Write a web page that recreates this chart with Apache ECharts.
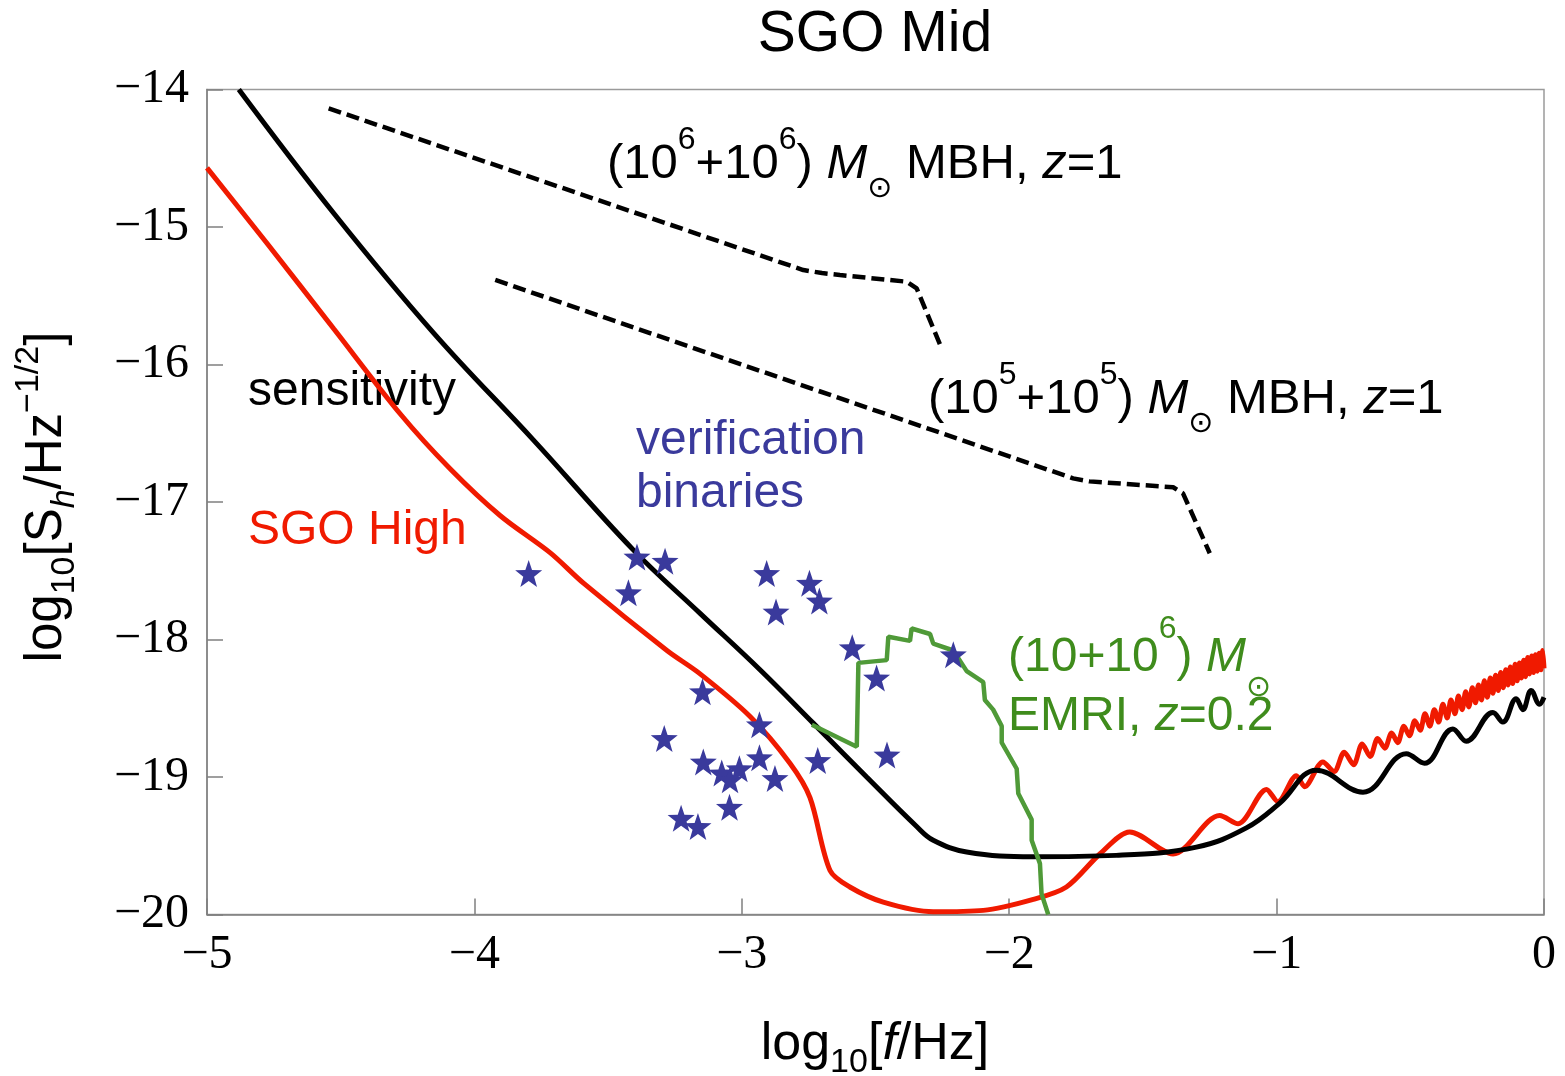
<!DOCTYPE html>
<html>
<head>
<meta charset="utf-8">
<title>SGO Mid</title>
<script src="https://cdn.jsdelivr.net/npm/echarts@6/dist/echarts.min.js"></script>
<style>
html,body{margin:0;padding:0;background:#fff;}
#chartmain{width:1565px;height:1076px;}
</style>
</head>
<body>
<div id="chartmain"></div>
<script>
// axes: x = log10[f/Hz], y = log10[S_h/Hz^-1/2]
var xMin = -5, xMax = 0;
var yMin = -20, yMax = -14;

// SGO Mid sensitivity (black)
var sensitivity = [
  [-4.881,-14.00],[-4.526,-14.90],[-4.153,-15.77],[-3.779,-16.55],[-3.405,-17.35],
  [-3.156,-17.81],[-2.932,-18.22],[-2.732,-18.61],[-2.533,-19.00],[-2.346,-19.36],
  [-2.284,-19.46],[-2.159,-19.545],[-1.910,-19.58],[-1.600,-19.57],[-1.300,-19.51],
  [-1.113,-19.37],[-0.988,-19.19],[-0.851,-18.95],[-0.677,-19.11],[-0.515,-18.83],
  [-0.447,-18.90],[-0.341,-18.65],[-0.291,-18.74],[-0.191,-18.53],[-0.154,-18.60],
  [-0.104,-18.43],[-0.079,-18.51],[-0.048,-18.37],[-0.017,-18.47],[0.000,-18.42]
];

// SGO High (red)
var sgoHigh = [
  [-5.000,-14.57],[-4.775,-15.12],[-4.526,-15.74],[-4.277,-16.36],[-4.090,-16.76],
  [-3.903,-17.10],[-3.716,-17.37],[-3.592,-17.59],[-3.280,-18.08],[-3.156,-18.25],
  [-2.969,-18.56],[-2.820,-18.90],[-2.745,-19.15],[-2.670,-19.68],[-2.596,-19.80],
  [-2.471,-19.91],[-2.284,-19.98],[-2.097,-19.97],[-1.910,-19.89],[-1.786,-19.80],
  [-1.661,-19.56],[-1.549,-19.40],[-1.387,-19.56],[-1.213,-19.28],[-1.144,-19.34],
  [-1.038,-19.09],[-0.995,-19.18],[-0.926,-18.99],[-0.895,-19.07],[-0.827,-18.89],
  [-0.785,-18.96],[-0.747,-18.82],[-0.712,-18.91],[-0.680,-18.76],[-0.650,-18.85],
  [-0.622,-18.72],[-0.595,-18.79],[-0.570,-18.68],[-0.547,-18.75],[-0.524,-18.63],
  [-0.503,-18.70],[-0.483,-18.59],[-0.463,-18.66],[-0.445,-18.54],[-0.427,-18.63],
  [-0.410,-18.51],[-0.394,-18.60],[-0.378,-18.47],[-0.362,-18.57],[-0.348,-18.44],
  [-0.333,-18.54],[-0.320,-18.41],[-0.306,-18.51],[-0.293,-18.38],[-0.281,-18.49],
  [-0.268,-18.35],[-0.256,-18.46],[-0.245,-18.33],[-0.234,-18.44],[-0.223,-18.30],
  [-0.212,-18.42],[-0.201,-18.28],[-0.191,-18.39],[-0.181,-18.26],[-0.171,-18.37],
  [-0.162,-18.24],[-0.152,-18.35],[-0.143,-18.22],[-0.134,-18.33],[-0.126,-18.20],
  [-0.117,-18.32],[-0.108,-18.18],[-0.100,-18.30],[-0.092,-18.17],[-0.084,-18.28],
  [-0.076,-18.15],[-0.069,-18.27],[-0.061,-18.13],[-0.054,-18.25],[-0.046,-18.12],
  [-0.039,-18.24],[-0.032,-18.11],[-0.025,-18.23],[-0.018,-18.10],[-0.011,-18.22],
  [-0.005,-18.08],[0.000,-18.21]
];

// EMRI (10+10^6) Msun, z=0.2 (green)
var emri = [
  [-2.738,-18.62],[-2.570,-18.78],[-2.564,-18.17],[-2.458,-18.15],[-2.452,-17.98],
  [-2.371,-18.01],[-2.365,-17.92],[-2.296,-17.96],[-2.284,-18.03],[-2.209,-18.08],
  [-2.159,-18.23],[-2.097,-18.31],[-2.091,-18.44],[-2.060,-18.51],[-2.028,-18.63],
  [-2.028,-18.75],[-1.972,-18.94],[-1.966,-19.12],[-1.916,-19.31],[-1.916,-19.46],
  [-1.885,-19.63],[-1.879,-19.85],[-1.854,-20.00]
];

// MBH tracks (dashed)
var mbh6 = [[-4.545,-14.137],[-2.770,-15.313],[-2.700,-15.335],[-2.633,-15.349],[-2.383,-15.398],[-2.346,-15.446],[-2.253,-15.882]];
var mbh5 = [[-3.922,-15.385],[-1.761,-16.828],[-1.700,-16.850],[-1.387,-16.893],[-1.350,-16.937],[-1.250,-17.373]];

// verification binaries (stars)
var binaries = [
  [-3.797,-17.52],[-3.392,-17.40],[-3.287,-17.43],[-3.424,-17.66],[-2.907,-17.52],
  [-2.747,-17.59],[-2.710,-17.72],[-2.872,-17.80],[-2.587,-18.06],[-2.496,-18.28],
  [-2.209,-18.11],[-3.147,-18.38],[-2.934,-18.62],[-3.290,-18.72],[-2.716,-18.88],
  [-2.457,-18.84],[-3.144,-18.89],[-3.075,-18.97],[-3.044,-19.02],[-3.009,-18.94],
  [-2.934,-18.86],[-2.876,-19.01],[-3.046,-19.22],[-3.227,-19.30],[-3.164,-19.36]
];

var sans = "'Liberation Sans', Arial, Helvetica, sans-serif";
var serif = "'Liberation Serif', 'Times New Roman', serif";
var starPath = 'path://M0,-10 L2.35,-3.24 L9.51,-3.09 L3.8,1.24 L5.88,8.09 L0,4 L-5.88,8.09 L-3.8,1.24 L-9.51,-3.09 L-2.35,-3.24 Z';

function tickFmt(v){
  return v < 0 ? '\u2212' + Math.abs(v) : String(v);
}

// rich styles: main text, italic, superscript, subscripts, solar-mass symbol
function richSet(color, size, lh, supLh, sunLh){
  return {
    n:   {fill: color, fontSize: size, fontFamily: sans, lineHeight: lh, verticalAlign: 'middle'},
    i:   {fill: color, fontSize: size, fontFamily: sans, fontStyle: 'italic', lineHeight: lh, verticalAlign: 'middle'},
    sup: {fill: color, fontSize: Math.round(size*0.66), fontFamily: sans, lineHeight: supLh, verticalAlign: 'top'},
    sub: {fill: color, fontSize: Math.round(size*0.66), fontFamily: sans, lineHeight: sunLh, verticalAlign: 'bottom'},
    subi:{fill: color, fontSize: Math.round(size*0.66), fontFamily: sans, fontStyle: 'italic', lineHeight: sunLh, verticalAlign: 'bottom'},
    sun: {fill: color, fontSize: Math.round(size*0.62), fontFamily: "'DejaVu Sans', sans-serif", lineHeight: sunLh, verticalAlign: 'bottom'}
  };
}

var green = '#4f9a38';
var greenText = '#3f8c1c';
var blue = '#3a3a9c';
var red = '#f01a00';

var option = {
  animation: false,
  backgroundColor: '#fff',
  grid: {
    left: 207, right: 21, top: 89.5, bottom: 161.5,
    show: true, borderColor: '#9a9a9a', borderWidth: 1.5
  },
  xAxis: {
    type: 'value', min: xMin, max: xMax, interval: 1,
    axisLine: {show: true, onZero: false, lineStyle: {color: '#808080', width: 1.5}},
    axisTick: {show: true, inside: true, length: 16, lineStyle: {color: '#808080', width: 1.5}},
    splitLine: {show: false},
    axisLabel: {color: '#000', fontFamily: serif, fontSize: 48, margin: 17, formatter: tickFmt, showMinLabel: true, showMaxLabel: true}
  },
  yAxis: {
    type: 'value', min: yMin, max: yMax, interval: 1,
    axisLine: {show: true, onZero: false, lineStyle: {color: '#808080', width: 1.5}},
    axisTick: {show: true, inside: true, length: 16, lineStyle: {color: '#808080', width: 1.5}},
    splitLine: {show: false},
    axisLabel: {color: '#000', fontFamily: serif, fontSize: 48, margin: 18, formatter: tickFmt, showMinLabel: true, showMaxLabel: true}
  },
  series: [
    {
      name: 'SGO High', type: 'line', data: sgoHigh, showSymbol: false, smooth: 0.3,
      lineStyle: {color: red, width: 5}, z: 2
    },
    {
      name: 'sensitivity', type: 'line', data: sensitivity, showSymbol: false, smooth: 0.4,
      lineStyle: {color: '#000', width: 5}, z: 3
    },
    {
      name: 'EMRI', type: 'line', data: emri, showSymbol: false,
      lineStyle: {color: green, width: 4.5}, z: 4
    },
    {
      name: 'MBH 1e6', type: 'line', data: mbh6, showSymbol: false,
      lineStyle: {color: '#000', width: 4.5, type: [13, 6]}, z: 4
    },
    {
      name: 'MBH 1e5', type: 'line', data: mbh5, showSymbol: false,
      lineStyle: {color: '#000', width: 4.5, type: [13, 6]}, z: 4
    },
    {
      name: 'verification binaries', type: 'scatter', data: binaries,
      symbol: starPath, symbolSize: 27,
      itemStyle: {color: blue, opacity: 1}, z: 5
    }
  ],
  graphic: [
    {type: 'text', x: 875, y: 35, style: {text: 'SGO Mid', fill: '#000', font: '57px ' + sans, align: 'center', verticalAlign: 'middle'}},
    {type: 'text', x: 248, y: 392, style: {text: 'sensitivity', fill: '#000', font: '48px ' + sans, verticalAlign: 'middle'}},
    {type: 'text', x: 248, y: 531, style: {text: 'SGO High', fill: red, font: '48px ' + sans, verticalAlign: 'middle'}},
    {type: 'text', x: 636, y: 441, style: {text: 'verification', fill: blue, font: '48px ' + sans, verticalAlign: 'middle'}},
    {type: 'text', x: 636, y: 494, style: {text: 'binaries', fill: blue, font: '48px ' + sans, verticalAlign: 'middle'}},
    {type: 'text', x: 607, y: 164, style: {
      text: '{n|(10}{sup|6}{n|+10}{sup|6}{n|) }{i|M}{sun|\u2299}{n| MBH, }{i|z}{n|=1}',
      rich: richSet('#000', 49, 80, 47, 28), verticalAlign: 'middle', align: 'left'}},
    {type: 'text', x: 928, y: 399, style: {
      text: '{n|(10}{sup|5}{n|+10}{sup|5}{n|) }{i|M}{sun|\u2299}{n| MBH, }{i|z}{n|=1}',
      rich: richSet('#000', 49, 80, 47, 28), verticalAlign: 'middle', align: 'left'}},
    {type: 'text', x: 1008, y: 658, style: {
      text: '{n|(10+10}{sup|6}{n|) }{i|M}{sun|\u2299}',
      rich: richSet(greenText, 48, 90, 57, 28), verticalAlign: 'middle', align: 'left'}},
    {type: 'text', x: 1008, y: 717, style: {
      text: '{n|EMRI, }{i|z}{n|=0.2}',
      rich: richSet(greenText, 48, 60, 40, 28), verticalAlign: 'middle', align: 'left'}},
    {type: 'text', x: 875, y: 1045, style: {
      text: '{n|log}{sub|10}{n|[}{i|f}{n|/Hz]}',
      rich: richSet('#000', 52, 70, 36, 44), verticalAlign: 'middle', align: 'center'}},
    {type: 'text', x: 47, y: 497, rotation: Math.PI / 2, style: {
      text: '{n|log}{sub|10}{n|[S}{subi|h}{n|/Hz}{sup|\u22121/2}{n|]}',
      rich: richSet('#000', 51, 70, 36, 44), verticalAlign: 'middle', align: 'center'}}
  ]
};

var chartmain = echarts.init(document.getElementById('chartmain'));
chartmain.setOption(option);
</script>
</body>
</html>
